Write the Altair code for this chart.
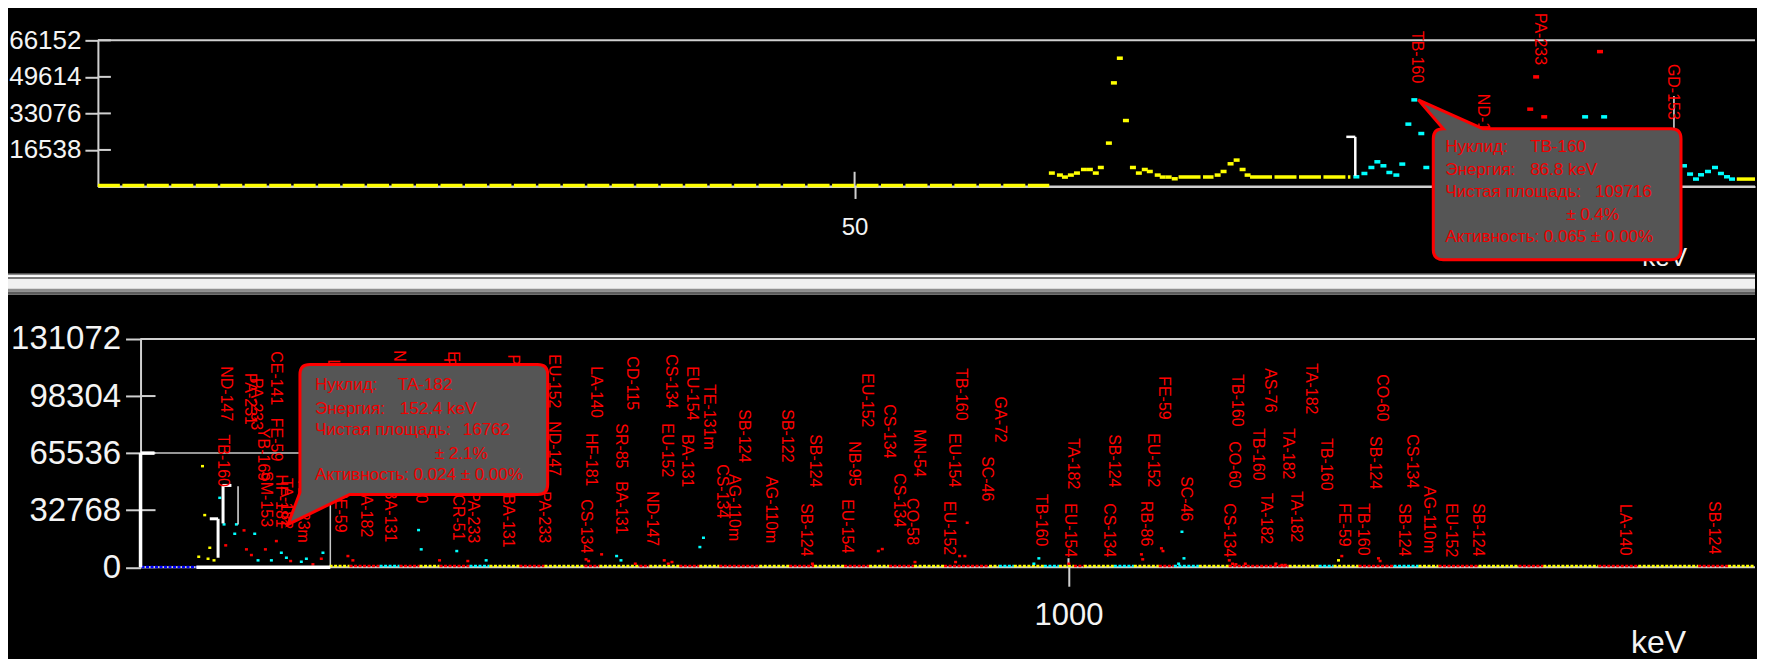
import altair as alt
import pandas as pd

FONT = "Liberation Sans"
RED = "#ff0000"
AXC = "#d0d0d0"
TXC = "#f4f4f4"
TIP_FILL = "#555555"

CLASS_NAMES = ["Y", "C", "R", "B"]
CLASS_COLORS = ["#ffff00", "#00ffff", "#ff0000", "#0000ff"]

W = 1659
TOP_H = 146.3
BOT_H = 228.5
GAP = 152

# ---------------- top panel (low-energy zoom) ----------------
TOP_KEV = [0.25, 109.2]
TOP_CNT = [0, 66152]
TOP_Y_TICKS = [16538, 33076, 49614, 66152]
TOP_X_TICKS = [50]

top_pt_kev = [62.97, 63.50, 63.83, 64.22, 64.62, 65.08, 65.47, 65.86, 66.19, 66.72, 67.05, 67.44, 67.84,
              68.30, 68.69, 69.08, 69.41, 69.93, 70.26, 70.65, 71.05,
              73.87, 74.26, 74.72, 75.12, 75.51, 75.84,
              82.99, 83.52, 83.98, 84.37, 84.77, 85.16, 85.62, 86.01, 86.41, 86.80, 87.26, 87.59,
              98.03, 99.28, 104.53, 104.93, 105.32, 105.65, 106.11, 106.57, 106.96, 107.36, 107.69,
              94.42, 94.81, 95.34, 99.01]
top_pt_cnt = [6060, 5155, 4250, 5155, 6060, 7687, 7687, 6060, 8592, 19625, 46893, 58062, 29845,
              8592, 6060, 7687, 6783, 5155, 4250, 4250, 3482,
              5155, 6783, 10265, 11938, 7687, 5155,
              4386, 5878, 8592, 11169, 9360, 6331, 5155, 10129, 28217, 39206, 23966, 8592,
              31518, 31518, 9360, 5607, 3346, 5290, 6783, 8592, 5878, 4386, 3346,
              35000, 49606, 31518, 61047]
top_pt_cls = ["Y"] * 27 + ["C"] * 23 + ["R"] * 4

top_run_kev = [0.25, 71.3, 76.0, 108.0]
top_run_kev2 = [62.8, 73.6, 82.6, 109.2]
top_run_cnt = [400, 4250, 4250, 3346]
top_run_cls = ["Y", "Y", "Y", "Y"]

top_brk_kev = [82.33, 82.92]
top_brk_kev2 = [82.92, 82.92]
top_brk_cnt = [22470, 22470]
top_brk_cnt2 = [22470, 4838]

top_gd_kev = [103.87]
top_gd_cnt = [41000]
top_gd_cnt2 = [4838]

top_lbl_name = ["TB-160", "ND-147", "PA-233", "GD-153"]
top_lbl_kev = [86.99, 91.33, 95.07, 103.80]
top_lbl_cnt = [70400, 41920, 78540, 55480]

top_tip = {"kev": 86.80, "cnt": 39206, "l_nuc": "Нуклид:", "v_nuc": "TB-160",
           "l_en": "Энергия:", "v_en": "86.8 keV", "l_area": "Чистая площадь:",
           "v_area": "109716", "v_err": "± 0.4%", "l_act": "Активность: 0.065 ± 0.00%"}

# ---------------- bottom panel (full spectrum) ----------------
BOT_KEV = [-54.0, 1745.5]
BOT_CNT = [0, 131072]
BOT_Y_TICKS = [0, 32768, 65536, 98304, 131072]
BOT_X_TICKS = [1000]
BOT_AXIS_KEV = -7.7

bot_pt_kev = [59.6, 62.0, 67.5, 55.5, 65.6, 72.1, 1293.2,
              78.3, 83.0, 94.6, 96.4, 116.3, 119.9, 134.4, 145.2, 150.7, 166.9, 172.4, 190.4, 294.2, 297.1,
              335.7, 367.6, 509.3, 514.0, 603.6, 599.7, 967.8, 962.4, 1123.2, 1125.4, 1119.6,
              84.8, 104.7, 107.3, 112.7, 127.9, 139.8, 155.3, 179.5, 188.6, 217.5, 222.9, 317.0, 347.7,
              493.0, 478.9, 476.1, 529.6, 561.0, 565.3, 569.4, 721.9, 793.5, 797.8, 833.3, 890.0, 881.8,
              887.5, 877.4, 1000.3, 1079.2, 1080.6, 1100.9, 1102.6, 1174.6, 1178.2, 1181.8, 1192.0, 1225.2,
              1231.7, 1235.4, 1296.8, 1336.6, 1338.4]
bot_pt_cnt = [58048, 29942, 11185, 6023, 4876, 3958, 3958,
              39865, 24607, 19216, 24607, 19216, 3958, 3958, 8317, 5449, 3155, 4876, 8317, 21338, 10267,
              9292, 3958, 6424, 3958, 16921, 11587, 5105, 2008, 20363, 5105, 2008,
              12562, 21166, 10267, 6998, 10267, 15028, 3556, 1663, 4876, 6424, 3958, 3958, 3556,
              7399, 3556, 4531, 2008, 3958, 2008, 2983, 2008, 9292, 10440, 2983, 25525, 6424,
              6424, 2983, 2008, 7399, 4531, 10841, 9292, 3958, 2008, 1663, 2008, 2008,
              1262, 1262, 6424, 5105, 3556]
bot_pt_cls = ["Y"] * 7 + ["C"] * 25 + ["R"] * 43

bot_run_kev = [-6.6, 197.6, 219.3, 251.9, 273.6, 295.3, 317.0, 349.5, 371.2, 403.7, 430.9, 474.3, 490.6,
               534.0, 544.8, 577.4, 599.1, 620.8, 664.2, 696.7, 723.8, 756.4, 783.5, 805.2, 832.3, 864.9,
               913.7, 924.4, 940.7, 973.3, 989.6, 1005.9, 1016.7, 1049.3, 1071.0, 1098.1, 1114.4, 1141.5,
               1174.0, 1239.1, 1271.7, 1287.9, 1315.0, 1353.0, 1380.1, 1401.8, 1445.2, 1488.6, 1515.7,
               1575.3, 1618.7, 1683.8, 1716.3]
bot_run_kev2 = bot_run_kev[1:] + [1745.5]
bot_run_kev2[0] = 53.0
bot_run_cls = ["B", "Y", "R", "C", "R", "Y", "R", "C", "Y", "R", "Y", "R", "Y",
               "R", "Y", "R", "Y", "R", "Y", "R", "Y", "R", "Y", "R", "Y", "R",
               "Y", "C", "Y", "C", "Y", "R", "Y", "C", "Y", "R", "C", "Y",
               "R", "Y", "C", "Y", "R", "C", "Y", "R", "Y", "R", "Y",
               "R", "Y", "R", "Y"]
bot_run_cnt = [150] + [700] * (len(bot_run_kev) - 1)

bot_win_kev = [-7.7]
bot_win_kev2 = [198.4]
bot_win_cnt = [0]
bot_win_cnt2 = [65536]

bot_edge_kev = [-7.7, -7.7, 53.0]
bot_edge_kev2 = [-7.7, 7.5, 198.4]
bot_edge_cnt = [0, 65536, 0]
bot_edge_cnt2 = [65536, 65536, 0]

bot_brk_kev = [67.5, 76.5, 81.2, 81.9]
bot_brk_kev2 = [76.5, 76.5, 91.0, 81.9]
bot_brk_cnt = [27820, 27820, 46978, 46978]
bot_brk_cnt2 = [27820, 5449, 46978, 25181]

bot_thin_kev = [98.2]
bot_thin_cnt = [46576]
bot_thin_cnt2 = [24607]

bot_lbl_name = ["ND-147", "TB-160", "PA-231", "PA-233", "CE-141", "FE-59", "YB-169", "HF-181", "TA-182",
                "SM-153", "LU-177", "TE-123m", "FE-59", "TA-182", "BA-131", "TB-160", "CR-51", "PA-233",
                "BA-131", "PA-233", "EU-152", "PA-233", "PA-233", "NP-239",
                "EU-152", "ND-147", "LA-140", "HF-181", "CS-134", "CD-115", "SR-85", "BA-131", "CS-134",
                "EU-152", "ND-147", "EU-154", "BA-131", "TE-131m", "CS-134", "AG-110m", "SB-124", "AG-110m",
                "SB-122", "SB-124", "SB-124", "EU-152", "NB-95", "EU-154", "CS-134", "MN-54", "CS-134",
                "CO-58", "TB-160", "EU-154", "EU-152", "GA-72", "SC-46",
                "TB-160", "TA-182", "EU-154", "SB-124", "CS-134", "FE-59", "EU-152", "RB-86", "SC-46",
                "TB-160", "CO-60", "CS-134", "AS-76", "TB-160", "TA-182", "TA-182", "TA-182", "TA-182",
                "TB-160", "CO-60", "SB-124", "FE-59", "TB-160",
                "CS-134", "SB-124", "AG-110m", "EU-152", "SB-124", "LA-140", "SB-124"]
bot_lbl_kev = [85.6, 81.9, 110.9, 118.1, 139.8, 139.8, 125.3, 145.2, 150.7, 129.0, 201.2, 168.7, 208.5,
               237.4, 262.7, 297.1, 336.8, 353.1, 391.0, 430.9, 331.4, 327.8, 396.5, 273.1,
               441.8, 441.8, 487.3, 481.9, 476.4, 526.3, 514.4, 514.4, 568.6, 564.3, 548.0, 591.2, 585.8,
               609.7, 623.9, 636.9, 647.7, 677.0, 694.4, 724.8, 715.0, 781.2, 767.1, 759.5, 805.1, 837.6,
               816.0, 830.1, 883.2, 875.6, 870.2, 925.2, 911.6,
               970.1, 1004.8, 1001.5, 1049.3, 1043.7, 1103.3, 1091.4, 1083.8, 1127.2, 1182.6, 1179.3,
               1174.0, 1218.4, 1205.4, 1214.1, 1262.9, 1237.9, 1246.6, 1279.1, 1339.9, 1332.3, 1299.7, 1320.3,
               1373.5, 1363.8, 1392.0, 1415.9, 1445.2, 1604.6, 1701.2]
bot_lbl_cnt = [115400, 76200, 111600, 108700, 124000, 85800, 80000, 53300, 51300, 55200, 119300, 51700,
               44900, 46600, 44900, 66700, 41800, 43700, 41800, 43700, 124000, 120200, 122100, 124600,
               122300, 83900, 115400, 77000, 39100, 121100, 82700, 49400, 122300, 82700, 43700, 115400,
               76400, 105100, 59200, 53500, 90700, 52300, 90700, 76400, 36800, 111400, 72400, 39100, 93600,
               79300, 54000, 39700, 114300, 77000, 38000, 98000, 63800,
               42000, 74100, 36800, 76400, 36800, 109700, 77000, 38000, 52300, 110800, 72400, 36800, 114300,
               79800, 42600, 117100, 79800, 43700, 74100, 110800, 75300, 36800, 36800,
               76400, 36800, 46600, 36800, 36800, 36300, 38000]

bot_tip = {"kev": 152.4, "cnt": 24600, "l_nuc": "Нуклид:", "v_nuc": "TA-182",
           "l_en": "Энергия:", "v_en": "152.4 keV", "l_area": "Чистая площадь:",
           "v_area": "16762", "v_err": "± 2.1%", "l_act": "Активность: 0.024 ± 0.00%"}

# ---------------- shapes (pixel paths relative to anchor, size=4 -> scale 1) ----------------
TOP_PT_SHAPE = "M-3,-1.75L3,-1.75L3,1.75L-3,1.75Z"
BOT_PT_SHAPE = "M-1.5,-1.25L1.5,-1.25L1.5,1.25L-1.5,1.25Z"
TOP_CALLOUT = "M69,29L4,0L29,29Q19,29 19,39L19,150Q19,160 29,160L257,160Q267,160 267,150L267,39Q267,29 257,29Z"
BOT_CALLOUT = "M62,-30L0,0L12,-32L12,-150Q12,-160 22,-160L250,-160Q260,-160 260,-150L260,-40Q260,-30 250,-30Z"

TOP_TIP_TEXT = [("l_nuc", 31, 47), ("v_nuc", 116, 47), ("l_en", 31, 70), ("v_en", 116, 70),
                ("l_area", 31, 92), ("v_area", 181, 92), ("v_err", 152, 115), ("l_act", 31, 137)]
BOT_TIP_TEXT = [("l_nuc", 27, -140), ("v_nuc", 110, -140), ("l_en", 27, -116), ("v_en", 112, -116),
                ("l_area", 27, -94), ("v_area", 175, -94), ("v_err", 147, -70), ("l_act", 27, -49)]

# separator band between panes: (top, bottom, colour) in px relative to the bottom plot top
SEP_BANDS = [(-65.4, -44.4, "#f0f0f0"), (-65.4, -63.7, "#8c8c8c"), (-63.7, -62.0, "#ffffff"),
             (-62.0, -60.0, "#7c7c7c"), (-50.4, -47.4, "#8e8e8e"), (-47.4, -44.4, "#5c5c5c")]

color = alt.Color("cls:N", scale=alt.Scale(domain=CLASS_NAMES, range=CLASS_COLORS), legend=None)


def panel_layers(kev_dom, cnt_dom, xaxis, yaxis, kev_per_px, cnt_per_px, axis_kev,
                 y_ticks, x_ticks, x_in_px, y_in_px,
                 pts, pt_shape, runs, run_width, run_dash, brk, lbls, tip, callout, tip_text):
    X = alt.X("kev:Q", scale=alt.Scale(domain=kev_dom, nice=False, zero=False), axis=xaxis)
    Y = alt.Y("cnt:Q", scale=alt.Scale(domain=cnt_dom, nice=False, zero=False), axis=yaxis)
    layers = []
    frame = pd.DataFrame({"kev": [axis_kev, axis_kev], "kev2": [kev_dom[1], kev_dom[1]],
                          "cnt": [cnt_dom[1], 0]})
    layers.append(alt.Chart(frame).mark_rule(color=AXC, strokeWidth=2).encode(x=X, x2="kev2:Q", y=Y))
    yt = pd.DataFrame({"kev": [axis_kev] * len(y_ticks),
                       "kev2": [axis_kev + y_in_px * kev_per_px] * len(y_ticks), "cnt": y_ticks})
    layers.append(alt.Chart(yt).mark_rule(color=AXC, strokeWidth=2).encode(x=X, x2="kev2:Q", y=Y))
    xt = pd.DataFrame({"kev": x_ticks, "cnt": [0] * len(x_ticks), "cnt2": [x_in_px * cnt_per_px] * len(x_ticks)})
    layers.append(alt.Chart(xt).mark_rule(color=AXC, strokeWidth=2).encode(x=X, y=Y, y2="cnt2:Q"))
    layers.append(alt.Chart(runs).mark_rule(strokeWidth=run_width, strokeDash=run_dash)
                  .encode(x=X, x2="kev2:Q", y=Y, color=color))
    layers.append(alt.Chart(pts).mark_point(shape=pt_shape, size=4, filled=True, opacity=1, strokeWidth=0)
                  .encode(x=X, y=Y, color=color))
    for df, wdt, col in brk:
        layers.append(alt.Chart(df).mark_rule(color=col, strokeWidth=wdt)
                      .encode(x=X, x2="kev2:Q", y=Y, y2="cnt2:Q"))
    layers.append(alt.Chart(lbls).mark_text(angle=90, align="left", baseline="middle", color=RED,
                                            font=FONT, fontSize=16)
                  .encode(x=X, y=Y, text="name:N"))
    tdf = pd.DataFrame([tip])
    layers.append(alt.Chart(tdf).mark_point(shape=callout, size=4, filled=True, fill=TIP_FILL,
                                            stroke=RED, strokeWidth=3, opacity=1)
                  .encode(x=X, y=Y))
    for field, dx, dy in tip_text:
        layers.append(alt.Chart(tdf).mark_text(align="left", baseline="middle", dx=dx, dy=dy,
                                               color="#f00000", font=FONT, fontSize=17)
                      .encode(x=X, y=Y, text=f"{field}:N"))
    return X, Y, layers


# ---------- top chart ----------
top_kpp = (TOP_KEV[1] - TOP_KEV[0]) / W
top_cpp = (TOP_CNT[1] - TOP_CNT[0]) / TOP_H
top_xaxis = alt.Axis(values=TOP_X_TICKS, format="d", grid=False, domain=True, domainColor=AXC, domainWidth=2,
                     ticks=True, tickColor=AXC, tickWidth=2, tickSize=12,
                     labelColor=TXC, labelFont=FONT, labelFontSize=24, labelPadding=17, labelFlush=False,
                     title="keV", titleColor=TXC, titleFont=FONT, titleFontSize=26, titleFontWeight="normal",
                     titleX=1568, titleY=71, titleAlign="center", titleBaseline="middle")
top_yaxis = alt.Axis(values=TOP_Y_TICKS, format="d", grid=False, domain=True, domainColor=AXC, domainWidth=2,
                     ticks=True, tickColor=AXC, tickWidth=2, tickSize=13,
                     labelColor=TXC, labelFont=FONT, labelFontSize=26, labelPadding=4, labelOverlap=False,
                     labelFlush=False, title=None)

top_pts = pd.DataFrame({"kev": top_pt_kev, "cnt": top_pt_cnt, "cls": top_pt_cls})
top_runs = pd.DataFrame({"kev": top_run_kev, "kev2": top_run_kev2, "cnt": top_run_cnt, "cls": top_run_cls})
top_brk = pd.DataFrame({"kev": top_brk_kev, "kev2": top_brk_kev2, "cnt": top_brk_cnt, "cnt2": top_brk_cnt2})
top_gd = pd.DataFrame({"kev": top_gd_kev, "kev2": top_gd_kev, "cnt": top_gd_cnt, "cnt2": top_gd_cnt2})
top_lbls = pd.DataFrame({"name": top_lbl_name, "kev": top_lbl_kev, "cnt": top_lbl_cnt})

TX, TY, top_layers = panel_layers(TOP_KEV, TOP_CNT, top_xaxis, top_yaxis, top_kpp, top_cpp, TOP_KEV[0],
                                  TOP_Y_TICKS, TOP_X_TICKS, 14.7, 13,
                                  top_pts, TOP_PT_SHAPE, top_runs, 3.5, [22, 2.5],
                                  [(top_brk, 2.5, "#ffffff"), (top_gd, 1.5, "#e0e0e0")],
                                  top_lbls, top_tip, TOP_CALLOUT, TOP_TIP_TEXT)
top = alt.layer(*top_layers).properties(width=W, height=TOP_H)

# ---------- bottom chart ----------
bot_kpp = (BOT_KEV[1] - BOT_KEV[0]) / W
bot_cpp = (BOT_CNT[1] - BOT_CNT[0]) / BOT_H
axis_px = (BOT_AXIS_KEV - BOT_KEV[0]) / bot_kpp
bot_xaxis = alt.Axis(values=BOT_X_TICKS, format="d", grid=False, domain=False,
                     ticks=True, tickColor=AXC, tickWidth=2, tickSize=19,
                     labelColor=TXC, labelFont=FONT, labelFontSize=31, labelPadding=14.5, labelFlush=False,
                     title="keV", titleColor=TXC, titleFont=FONT, titleFontSize=32, titleFontWeight="normal",
                     titleX=1562, titleY=75, titleAlign="center", titleBaseline="middle")
bot_yaxis = alt.Axis(values=BOT_Y_TICKS, format="d", grid=False, domain=True, domainColor=AXC, domainWidth=2,
                     ticks=True, tickColor=AXC, tickWidth=2, tickSize=15, offset=-axis_px,
                     labelColor=TXC, labelFont=FONT, labelFontSize=33, labelPadding=5, labelOverlap=False,
                     labelFlush=False, title=None)

bot_pts = pd.DataFrame({"kev": bot_pt_kev, "cnt": bot_pt_cnt, "cls": bot_pt_cls})
bot_runs = pd.DataFrame({"kev": bot_run_kev, "kev2": bot_run_kev2, "cnt": bot_run_cnt, "cls": bot_run_cls})
bot_brk = pd.DataFrame({"kev": bot_brk_kev, "kev2": bot_brk_kev2, "cnt": bot_brk_cnt, "cnt2": bot_brk_cnt2})
bot_thin = pd.DataFrame({"kev": bot_thin_kev, "kev2": bot_thin_kev, "cnt": bot_thin_cnt, "cnt2": bot_thin_cnt2})
bot_edges = pd.DataFrame({"kev": bot_edge_kev, "kev2": bot_edge_kev2, "cnt": bot_edge_cnt, "cnt2": bot_edge_cnt2})
bot_lbls = pd.DataFrame({"name": bot_lbl_name, "kev": bot_lbl_kev, "cnt": bot_lbl_cnt})
bot_win = pd.DataFrame({"kev": bot_win_kev, "kev2": bot_win_kev2, "cnt": bot_win_cnt, "cnt2": bot_win_cnt2})

BX, BY, bot_layers = panel_layers(BOT_KEV, BOT_CNT, bot_xaxis, bot_yaxis, bot_kpp, bot_cpp, BOT_AXIS_KEV,
                                  BOT_Y_TICKS, BOT_X_TICKS, 9, 15,
                                  bot_pts, BOT_PT_SHAPE, bot_runs, 2.5, [3, 1.5],
                                  [(bot_brk, 3, "#ffffff"), (bot_thin, 1.5, "#e0e0e0"),
                                   (bot_edges, 3.5, "#ffffff")],
                                  bot_lbls, bot_tip, BOT_CALLOUT, BOT_TIP_TEXT)

window = alt.Chart(bot_win).mark_rect(fillOpacity=0, stroke="#c8c8c8", strokeWidth=1.5).encode(
    x=BX, x2="kev2:Q", y=BY, y2="cnt2:Q")

sep_layers = []
for y0, y1, col in SEP_BANDS:
    sep_layers.append(alt.Chart(pd.DataFrame({"a": [0]})).mark_rect(color=col).encode(
        x=alt.value(-90), x2=alt.value(W), y=alt.value(y0), y2=alt.value(y1)))

bot = alt.layer(*sep_layers, window, *bot_layers).properties(width=W, height=BOT_H)

chart = (alt.vconcat(top, bot, spacing=GAP, bounds="flush")
         .resolve_scale(x="independent", y="independent")
         .properties(padding={"left": 0, "top": 4, "right": 0, "bottom": 0}, background="black")
         .configure_view(stroke=None))

chart.save("out.html", embed_options={"renderer": "svg", "actions": False})
